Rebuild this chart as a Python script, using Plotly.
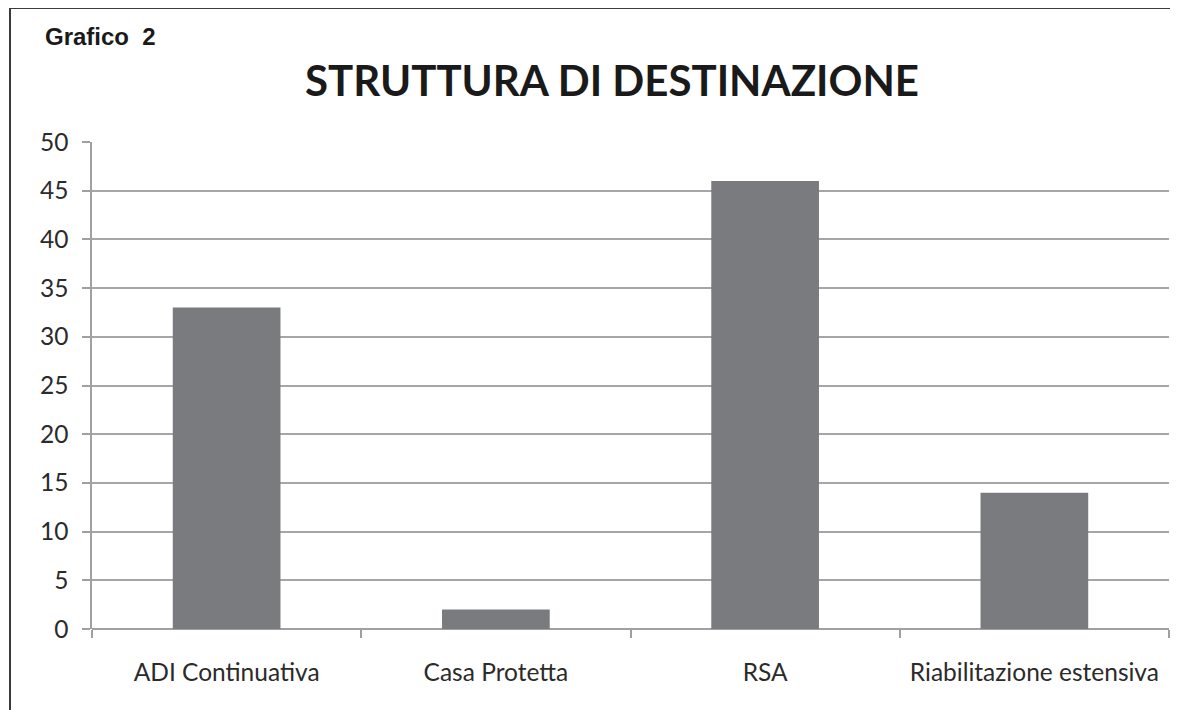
import plotly.graph_objects as go

categories = ["ADI Continuativa", "Casa Protetta", "RSA", "Riabilitazione estensiva"]
values = [33, 2, 46, 14]
y_ticks = [0, 5, 10, 15, 20, 25, 30, 35, 40, 45, 50]

# page body has an 8px margin, so the figure is drawn 8px in from the window edge
OFF = 8
W, H = 1178 - OFF, 710 - OFF
L, R, T, B = 92 - OFF, 9, 142 - OFF, 710 - 629
pw, ph = W - L - R, H - T - B

def px_x(x):
    return (x - OFF - L) / pw

def px_y(y):
    return (H - B - (y - OFF)) / ph

fig = go.Figure(go.Bar(
    x=categories, y=values, width=0.4,
    marker=dict(color="#797b7e", line=dict(width=0)),
    hoverinfo="x+y",
))

fig.update_layout(
    width=W, height=H,
    margin=dict(l=L, r=R, t=T, b=B),
    paper_bgcolor="white", plot_bgcolor="white",
    showlegend=False,
    font=dict(family="Lato", color="#2b2b2b"),
    xaxis=dict(
        tickson="boundaries", ticks="outside", ticklen=8, tickcolor="#a0a0a0", tickwidth=1.5,
        showline=False, showgrid=False, tickfont=dict(size=24.5, family="Lato", color="#2b2b2b"),
        ticklabelstandoff=26,
    ),
    yaxis=dict(
        range=[0, 50], tickvals=y_ticks, ticks="outside", ticklen=8, tickcolor="#a0a0a0", tickwidth=1.5,
        showline=True, linecolor="#a0a0a0", linewidth=1.5,
        showgrid=True, gridcolor="#a6a6a6", gridwidth=2,
        zeroline=True, zerolinecolor="#a0a0a0", zerolinewidth=2,
        tickfont=dict(size=24.5, family="Lato", color="#2b2b2b"),
        ticklabelstandoff=9,
    ),
    annotations=[
        dict(text="<b>STRUTTURA DI DESTINAZIONE</b>", xref="paper", yref="paper",
             x=px_x(612), y=px_y(80), xanchor="center", yanchor="middle", showarrow=False,
             font=dict(size=42, family="Lato", color="#1a1a1a")),
        dict(text="<b>Grafico  2</b>", xref="paper", yref="paper",
             x=px_x(43), y=px_y(37), xanchor="left", yanchor="middle", showarrow=False,
             font=dict(size=24, family="Liberation Sans", color="#1a1a1a")),
    ],
    shapes=[
        dict(type="line", xref="paper", yref="paper", x0=px_x(10), x1=px_x(10),
             y0=px_y(7), y1=px_y(712), line=dict(color="#3a3a3a", width=2)),
        dict(type="line", xref="paper", yref="paper", x0=px_x(9), x1=px_x(1180),
             y0=px_y(8), y1=px_y(8), line=dict(color="#3a3a3a", width=2)),
    ],
)

fig.write_html("out.html")
